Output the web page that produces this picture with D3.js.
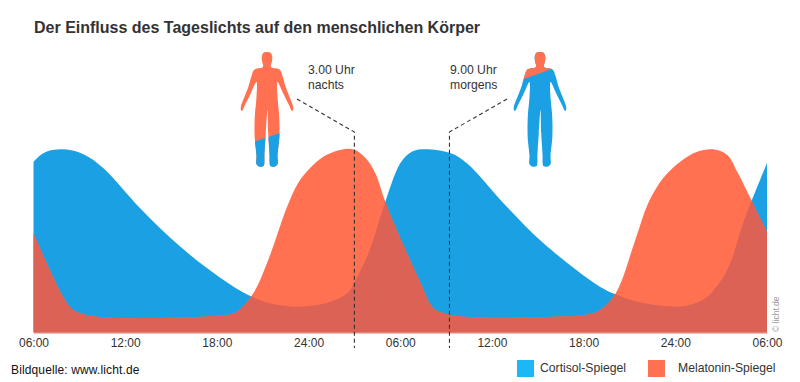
<!DOCTYPE html>
<html>
<head>
<meta charset="utf-8">
<script src="https://cdn.jsdelivr.net/npm/d3@7"></script>
<style>
    html, body { margin: 0; padding: 0; background: #fff; overflow: hidden; }
    text { font-family: "Liberation Sans", Arial, sans-serif; }
</style>
</head>
<body>
<div id="chart"></div>
<script>
// Stunden seit 06:00 (0 - 48) und Spiegel in % des Maximums
const cortisolHours = [0, 0.7, 1.86, 3.27, 4.58, 6.98, 9.6, 12.22, 14.18, 15.69, 17, 18.57, 19.75, 20.6, 21.3, 22.0, 23.02, 24, 24.65, 25.42, 27.27, 28.36, 30.74, 33.36, 36.89, 38.07, 39.51, 42.12, 43.17, 44.09, 45.4, 46.44, 48];
const cortisolLevels = [93.1, 98, 99.8, 97.2, 89.5, 67.7, 46.8, 29.9, 19.9, 15.5, 14.1, 15, 17.7, 22, 32, 45, 71.3, 92.2, 98, 99.8, 97.8, 92.2, 70.6, 48.8, 25.9, 20.8, 16.8, 14.1, 15.5, 19.5, 34.1, 59.7, 92.4];
const melatoninHours = [0, 1.94, 2.6, 3.51, 5.02, 10.45, 12.22, 13.2, 14.31, 15.36, 16.6, 17.32, 18.1, 18.96, 20.07, 20.92, 21.73, 22.36, 23.02, 24, 25.3, 26.16, 27.07, 28.77, 34.27, 35.78, 36.89, 38.07, 39.38, 40.23, 41.21, 42.32, 43.43, 44.48, 45.4, 46.05, 47.03, 48];
const melatoninLevels = [54.1, 19.5, 12.3, 9.5, 8.1, 8.3, 9.2, 10.8, 20.4, 39.5, 68.6, 81.5, 89.6, 95.8, 99.5, 99.8, 95.1, 86.9, 71.3, 51.5, 27.7, 13.4, 10.1, 8.3, 8.6, 9.2, 11.3, 21, 50.4, 70.6, 84.2, 93.1, 98.5, 99.8, 96.7, 87.6, 71.3, 54.9];

const tickHours = [0, 6, 12, 18, 24, 30, 36, 42, 48];
const tickLabels = ["06:00", "12:00", "18:00", "24:00", "06:00", "12:00", "18:00", "24:00", "06:00"];

const markerHours = [21, 27.22];
const markerLabels = [["3.00 Uhr", "nachts"], ["9.00 Uhr", "morgens"]];
const legendLabels = ["Cortisol-Spiegel", "Melatonin-Spiegel"];

const titleText = "Der Einfluss des Tageslichts auf den menschlichen Körper";
const sourceText = "Bildquelle: www.licht.de";
const copyrightText = "© licht.de";

const width = 800,
    height = 382;
const blue = "#1ba1e3",
    orange = "#ff7151",
    overlap = "#db6254";

const svg = d3.select("#chart")
    .append("svg")
    .attr("width", width)
    .attr("height", height)
    .style("display", "block");

const x = d3.scaleLinear().domain([0, 48]).range([33.5, 767]);
const y = d3.scaleLinear().domain([0, 100]).range([332.5, 149]);

const cortisol = cortisolHours.map((h, i) => [h, cortisolLevels[i]]);
const melatonin = melatoninHours.map((h, i) => [h, melatoninLevels[i]]);

const area = d3.area()
    .x(d => x(d[0]))
    .y0(y(0))
    .y1(d => y(d[1]))
    .curve(d3.curveCatmullRom);

// Titel
svg.append("text")
    .attr("x", 34)
    .attr("y", 33)
    .style("font-size", "16px")
    .style("font-weight", "bold")
    .style("fill", "#333")
    .text(titleText);

// Kurven, die Schnittmenge wird ueber einen clipPath gezeichnet
svg.append("defs").append("clipPath")
    .attr("id", "clip-melatonin")
    .append("path")
    .attr("d", area(melatonin));

svg.append("path").attr("d", area(cortisol)).style("fill", blue);
svg.append("path").attr("d", area(melatonin)).style("fill", orange);
svg.append("path")
    .attr("d", area(cortisol))
    .attr("clip-path", "url(#clip-melatonin)")
    .style("fill", overlap);

// Achse
const axis = svg.append("g")
    .attr("transform", `translate(0,${y(0)})`)
    .call(d3.axisBottom(x)
        .tickValues(tickHours)
        .tickSize(0)
        .tickPadding(6)
        .tickFormat((d, i) => tickLabels[i]));
axis.select(".domain").style("stroke", "#ee7a62");
axis.selectAll("text")
    .style("font-family", '"Liberation Sans", Arial, sans-serif')
    .style("font-size", "12px")
    .style("fill", "#333");

// Gestrichelte Linien
const figureAnchor = [297, 507];
const leader = d3.line();
markerHours.forEach(function(h, i) {
    svg.append("path")
        .attr("d", leader([[figureAnchor[i], 99], [x(h), 132], [x(h), 348]]))
        .style("fill", "none")
        .style("stroke", "#333")
        .style("stroke-width", 1.1)
        .style("stroke-dasharray", "4,3");

    svg.append("g").selectAll("text")
        .data(markerLabels[i])
        .join("text")
        .attr("x", [308, 450][i])
        .attr("y", (d, j) => 74 + j * 14.5)
        .style("font-size", "12.2px")
        .style("fill", "#333")
        .text(d => d);
});

// Figuren: halbe Silhouette, wird gespiegelt
const bodyHalf = [[0, 0], [3.5, 0.8], [5.3, 5], [4.8, 10], [3.8, 14], [5, 15.8], [10, 16.6], [13, 18], [15.5, 24], [19, 36], [23, 46], [26.2, 55], [25.6, 59], [24.2, 58], [22.5, 54], [16.5, 42], [10.5, 30], [10.5, 45], [12.2, 64], [12.4, 84], [10.5, 104], [10.6, 112], [8, 114.5], [3.4, 114], [2.6, 110], [2.6, 104], [1.2, 81], [0.5, 58]];
const bodyPoints = bodyHalf.concat(bodyHalf.slice(1, -1).reverse().map(p => [-p[0], p[1]]));
const bodyLine = d3.line().curve(d3.curveCatmullRomClosed.alpha(0.5));

const figures = [
    { cx: 267, top: 52, main: orange, other: blue, clip: [[-40, 98.7], [40, 71.9], [40, 130], [-40, 130]] },
    { cx: 540, top: 52, main: blue, other: orange, clip: [[-40, 35.4], [40, 7], [40, -10], [-40, -10]] }
];

figures.forEach(function(f, i) {
    const g = svg.append("g").attr("transform", `translate(${f.cx},${f.top})`);
    g.append("clipPath")
        .attr("id", "clip-figure-" + i)
        .append("path")
        .attr("d", d3.line()(f.clip) + "Z");
    g.append("path").attr("d", bodyLine(bodyPoints)).style("fill", f.main);
    g.append("path")
        .attr("d", bodyLine(bodyPoints))
        .attr("clip-path", `url(#clip-figure-${i})`)
        .style("fill", f.other);
});

// Legende
const legendX = [517, 648],
    legendTextX = [540, 678],
    legendColors = ["#1cb7f5", orange];
legendLabels.forEach(function(label, i) {
    svg.append("rect")
        .attr("x", legendX[i])
        .attr("y", 360)
        .attr("width", 17)
        .attr("height", 17)
        .style("fill", legendColors[i]);
    svg.append("text")
        .attr("x", legendTextX[i])
        .attr("y", 372)
        .style("font-size", "12.2px")
        .style("fill", "#333")
        .text(label);
});

// Quelle
svg.append("text")
    .attr("x", 11)
    .attr("y", 374)
    .style("font-size", "12px")
    .style("letter-spacing", "0.13px")
    .style("fill", "#111")
    .text(sourceText);

svg.append("text")
    .attr("transform", "translate(779,332) rotate(-90)")
    .style("font-size", "8.5px")
    .style("fill", "#999")
    .text(copyrightText);
</script>
</body>
</html>
